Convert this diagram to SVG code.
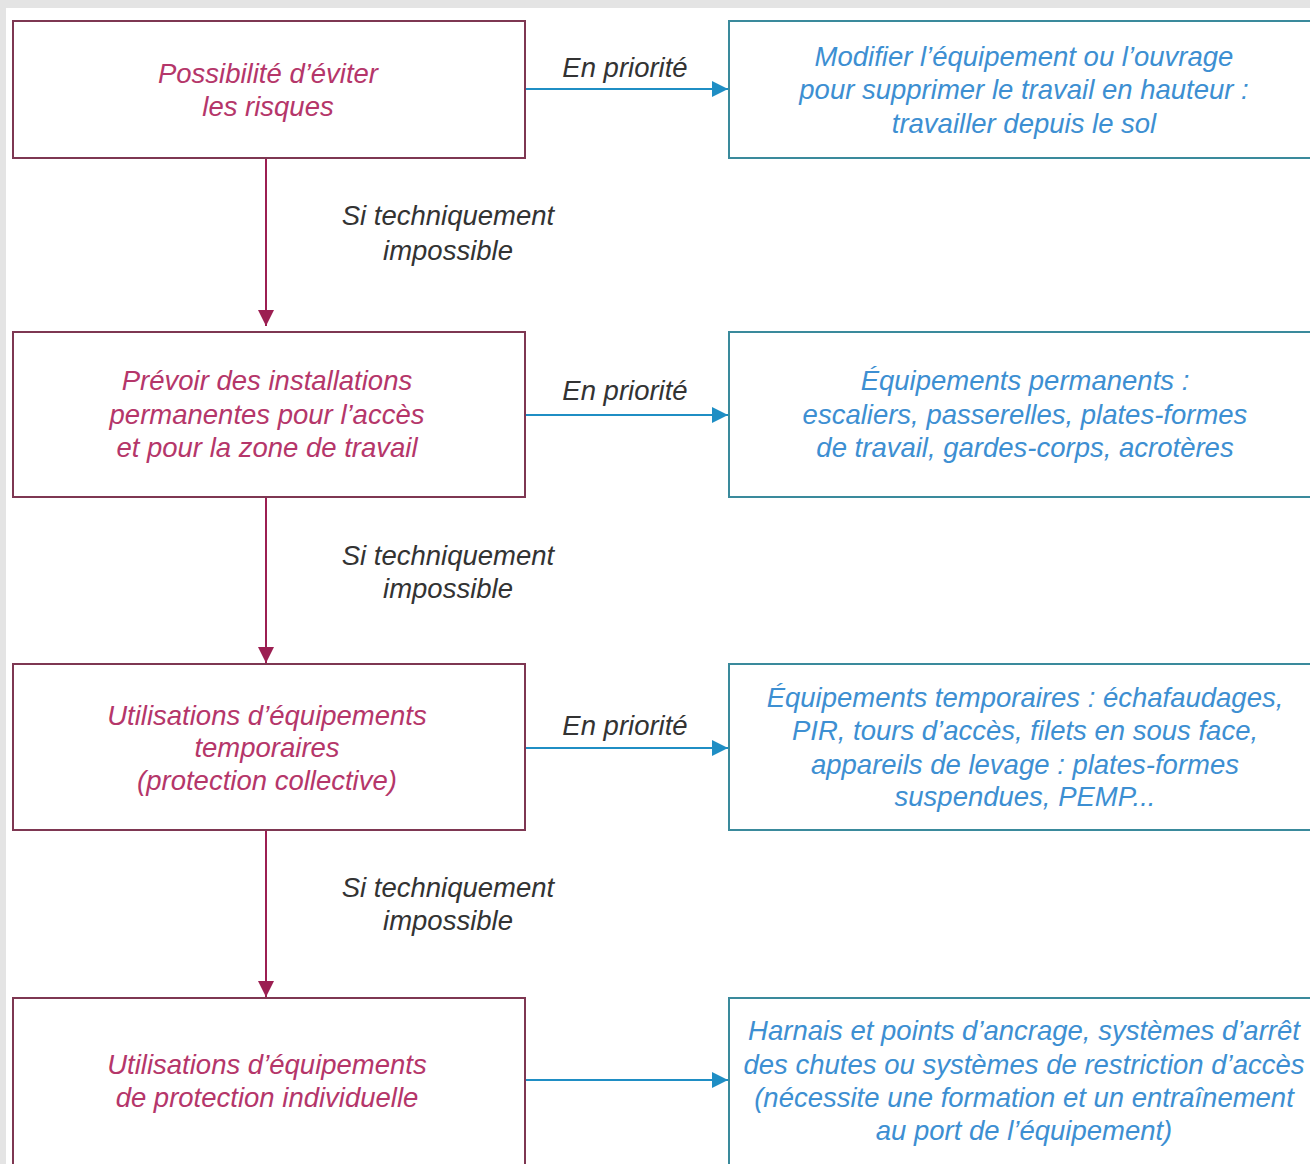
<svg xmlns="http://www.w3.org/2000/svg" width="1310" height="1164" viewBox="0 0 1310 1164">
<defs>
<marker id="ahV" viewBox="0 0 10 10" refX="10" refY="5" markerWidth="18" markerHeight="16" markerUnits="userSpaceOnUse" orient="auto"><path d="M0,0 L10,5 L0,10 Z" fill="#9c1f52"/></marker>
<marker id="ahH" viewBox="0 0 10 10" refX="10" refY="5" markerWidth="20" markerHeight="16" markerUnits="userSpaceOnUse" orient="auto"><path d="M0,0 L10,5 L0,10 Z" fill="#1f8ec4"/></marker>
</defs>
<style>
text{font-family:"Liberation Sans",Arial,sans-serif;font-style:italic;font-size:27.5px;text-anchor:middle}
.l rect{fill:#fff;stroke:#7e3752;stroke-width:2}
.r rect{fill:#fff;stroke:#3a8a9c;stroke-width:2}
.l text{fill:#b5366a}
.r text{fill:#3d8fd2}
.lab{fill:#333}
.v{stroke:#9c1f52;stroke-width:2;fill:none}
.h{stroke:#1f8ec4;stroke-width:2;fill:none}
</style>
<rect width="1310" height="1164" fill="#e4e4e4"/>
<rect x="6" y="8" width="1304" height="1156" fill="#fff"/>

<g id="n1" class="l"><rect x="13" y="21" width="512" height="137"/><text x="268" y="83">Possibilité d’éviter</text><text x="268" y="116">les risques</text></g>
<g id="n2" class="l"><rect x="13" y="332" width="512" height="165"/><text x="267" y="390">Prévoir des installations</text><text x="267" y="424">permanentes pour l’accès</text><text x="267" y="457">et pour la zone de travail</text></g>
<g id="n3" class="l"><rect x="13" y="664" width="512" height="166"/><text x="267" y="725">Utilisations d’équipements</text><text x="267" y="757">temporaires</text><text x="267" y="790">(protection collective)</text></g>
<g id="n4" class="l"><rect x="13" y="998" width="512" height="180"/><text x="267" y="1074">Utilisations d’équipements</text><text x="267" y="1107">de protection individuelle</text></g>

<g id="m1" class="r"><rect x="729" y="21" width="600" height="137"/><text x="1024" y="66">Modifier l’équipement ou l’ouvrage</text><text x="1024" y="99">pour supprimer le travail en hauteur :</text><text x="1024" y="133">travailler depuis le sol</text></g>
<g id="m2" class="r"><rect x="729" y="332" width="600" height="165"/><text x="1025" y="390">Équipements permanents :</text><text x="1025" y="424">escaliers, passerelles, plates-formes</text><text x="1025" y="457">de travail, gardes-corps, acrotères</text></g>
<g id="m3" class="r"><rect x="729" y="664" width="600" height="166"/><text x="1025" y="707">Équipements temporaires : échafaudages,</text><text x="1025" y="740">PIR, tours d’accès, filets en sous face,</text><text x="1025" y="774">appareils de levage : plates-formes</text><text x="1025" y="806">suspendues, PEMP...</text></g>
<g id="m4" class="r"><rect x="729" y="998" width="600" height="180"/><text x="1024" y="1040">Harnais et points d’ancrage, systèmes d’arrêt</text><text x="1024" y="1074">des chutes ou systèmes de restriction d’accès</text><text x="1024" y="1107">(nécessite une formation et un entraînement</text><text x="1024" y="1140">au port de l’équipement)</text></g>

<g id="connectors">
<line class="h" x1="526" y1="89" x2="728" y2="89" marker-end="url(#ahH)"/>
<line class="h" x1="526" y1="415" x2="728" y2="415" marker-end="url(#ahH)"/>
<line class="h" x1="526" y1="748" x2="728" y2="748" marker-end="url(#ahH)"/>
<line class="h" x1="526" y1="1080" x2="728" y2="1080" marker-end="url(#ahH)"/>
<line class="v" x1="266" y1="159" x2="266" y2="326" marker-end="url(#ahV)"/>
<line class="v" x1="266" y1="498" x2="266" y2="663" marker-end="url(#ahV)"/>
<line class="v" x1="266" y1="831" x2="266" y2="997" marker-end="url(#ahV)"/>
<text class="lab" x="625" y="77">En priorité</text>
<text class="lab" x="625" y="400">En priorité</text>
<text class="lab" x="625" y="735">En priorité</text>
<text class="lab" x="448" y="225">Si techniquement</text>
<text class="lab" x="448" y="260">impossible</text>
<text class="lab" x="448" y="565">Si techniquement</text>
<text class="lab" x="448" y="598">impossible</text>
<text class="lab" x="448" y="897">Si techniquement</text>
<text class="lab" x="448" y="930">impossible</text>
</g>
</svg>
